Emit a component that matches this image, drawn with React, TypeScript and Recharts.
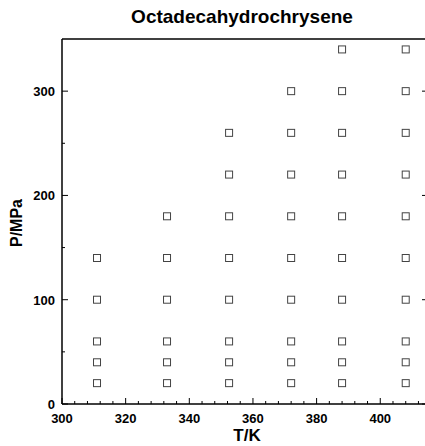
import { ScatterChart, Scatter, XAxis, YAxis } from "recharts";

const title = "Octadecahydrochrysene";
const xLabel = "T/K";
const yLabel = "P/MPa";

// isotherm temperatures (K) and measured pressures (MPa) at each
const temps = [311, 333, 352.5, 372, 388, 408];
const pAt311 = [20, 40, 60, 100, 140];
const pAt333 = [20, 40, 60, 100, 140, 180];
const pAt352 = [20, 40, 60, 100, 140, 180, 220, 260];
const pAt372 = [20, 40, 60, 100, 140, 180, 220, 260, 300];
const pAt388 = [20, 40, 60, 100, 140, 180, 220, 260, 300, 340];
const pAt408 = [20, 40, 60, 100, 140, 180, 220, 260, 300, 340];

const xTicks = [300, 304, 308, 312, 316, 320, 324, 328, 332, 336, 340, 344, 348, 352, 356, 360, 364, 368, 372, 376, 380, 384, 388, 392, 396, 400, 404, 408, 412];
const yTicks = [0, 50, 100, 150, 200, 250, 300];

const isotherms = [pAt311, pAt333, pAt352, pAt372, pAt388, pAt408];
const data = isotherms.flatMap((ps, i) => ps.map((p) => ({ T: temps[i], P: p })));

const font = "'Liberation Sans', Arial, sans-serif";

function Square(props: any) {
  const { cx, cy } = props;
  return (
    <rect x={cx - 3.5} y={cy - 3.5} width={7} height={7} fill="none" stroke="#444" strokeWidth={1} />
  );
}

function BottomTick(props: any) {
  const { x, y, payload } = props;
  const major = payload.value % 20 === 0;
  return (
    <g>
      <line x1={x} y1={y} x2={x} y2={y - (major ? 6 : 3)} stroke="#000" />
      {major && payload.value <= 400 && (
        <text x={x} y={y + 19} textAnchor="middle" fontFamily={font} fontWeight="bold" fontSize={13} fill="#000">
          {payload.value}
        </text>
      )}
    </g>
  );
}

function TopTick(props: any) {
  const { x, y, payload } = props;
  const major = payload.value % 20 === 0;
  return <line x1={x} y1={y} x2={x} y2={y + (major ? 6 : 3)} stroke="#000" />;
}

function LeftTick(props: any) {
  const { x, y, payload } = props;
  const major = payload.value % 100 === 0;
  return (
    <g>
      <line x1={x} y1={y} x2={x + (major ? 6 : 3)} y2={y} stroke="#000" />
      {major && (
        <text x={x - 7} y={y + 5} textAnchor="end" fontFamily={font} fontWeight="bold" fontSize={13} fill="#000">
          {payload.value}
        </text>
      )}
    </g>
  );
}

function RightTick(props: any) {
  const { x, y, payload } = props;
  const major = payload.value % 100 === 0;
  return <line x1={x} y1={y} x2={x - (major ? 6 : 3)} y2={y} stroke="#000" />;
}

export default function App() {
  return (
    <div style={{ position: "absolute", left: 0, top: 0, width: 425, height: 446, overflow: "hidden", background: "#fff" }}>
      <div
        style={{
          position: "absolute",
          left: 0,
          top: 6,
          width: 484,
          textAlign: "center",
          fontFamily: font,
          fontWeight: "bold",
          fontSize: 19,
        }}
      >
        {title}
      </div>
      <div
        style={{
          position: "absolute",
          left: 0,
          top: 426,
          width: 494,
          textAlign: "center",
          fontFamily: font,
          fontWeight: "bold",
          fontSize: 17,
          lineHeight: "20px",
        }}
      >
        {xLabel}
      </div>
      <div
        style={{
          position: "absolute",
          left: 17,
          top: 223,
          transform: "translate(-50%, -50%) rotate(-90deg)",
          fontFamily: font,
          fontWeight: "bold",
          fontSize: 16,
          lineHeight: "18px",
          whiteSpace: "nowrap",
        }}
      >
        {yLabel}
      </div>
      <ScatterChart width={440} height={446} margin={{ top: 0, right: 0, bottom: 0, left: 0 }}>
        <XAxis
          xAxisId="bottom"
          type="number"
          dataKey="T"
          domain={[300, 415]}
          ticks={xTicks}
          interval={0}
          allowDataOverflow
          height={42}
          tickSize={0}
          tickMargin={0}
          tickLine={false}
          tick={<BottomTick />}
          axisLine={{ stroke: "#000", strokeWidth: 1.5 }}
        />
        <XAxis
          xAxisId="top"
          orientation="top"
          type="number"
          domain={[300, 415]}
          ticks={xTicks}
          interval={0}
          allowDataOverflow
          height={39}
          tickSize={0}
          tickMargin={0}
          tickLine={false}
          tick={<TopTick />}
          axisLine={{ stroke: "#000", strokeWidth: 1.5 }}
        />
        <YAxis
          yAxisId="left"
          type="number"
          dataKey="P"
          domain={[0, 350]}
          ticks={yTicks}
          interval={0}
          allowDataOverflow
          width={62}
          tickSize={0}
          tickMargin={0}
          tickLine={false}
          tick={<LeftTick />}
          axisLine={{ stroke: "#000", strokeWidth: 1.5 }}
        />
        <YAxis
          yAxisId="right"
          orientation="right"
          type="number"
          domain={[0, 350]}
          ticks={yTicks}
          interval={0}
          allowDataOverflow
          width={12}
          tickSize={0}
          tickMargin={0}
          tickLine={false}
          tick={<RightTick />}
          axisLine={{ stroke: "#000", strokeWidth: 1.5 }}
        />
        <Scatter
          data={data}
          xAxisId="bottom"
          yAxisId="left"
          shape={<Square />}
          isAnimationActive={false}
        />
      </ScatterChart>
    </div>
  );
}
